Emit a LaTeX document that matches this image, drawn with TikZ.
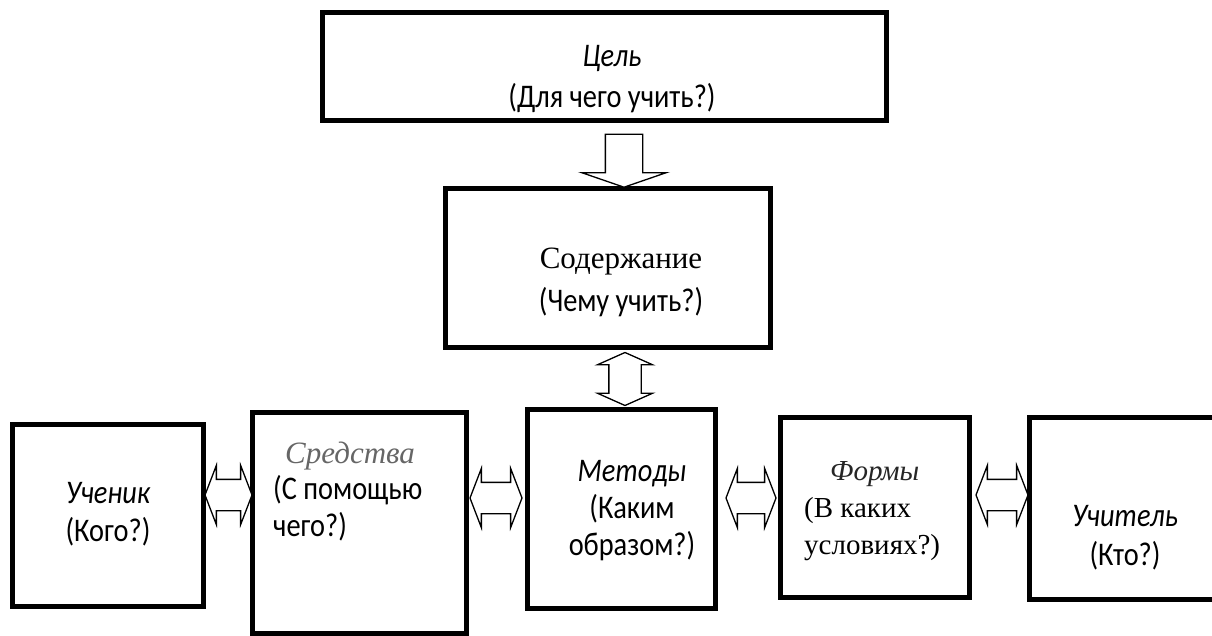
\documentclass[tikz,border=0pt]{standalone}
\usepackage{fontspec}
\setmainfont{Carlito}[FakeStretch=0.86]
\newfontfamily\tnr{Liberation Serif}
\usetikzlibrary{shapes.arrows,calc}

\tikzstyle{block} = [rectangle, draw=black, line width=5.5pt, fill=white]
\tikzstyle{caption} = [align=center, inner sep=0pt, font=\fontsize{33}{38}\selectfont]
\tikzstyle{leftcaption} = [align=left, anchor=west, inner sep=0pt, font=\fontsize{33}{37}\selectfont]
\tikzstyle{twoway} = [double arrow, draw=black, line width=1.3pt, fill=white, inner xsep=0pt, inner ysep=15pt, double arrow head extend=14pt, double arrow tip angle=138]
\tikzstyle{oneway} = [single arrow, draw=black, line width=1.3pt, fill=white, inner xsep=0pt, inner ysep=18pt, single arrow head extend=23.5pt, single arrow tip angle=142, rotate=-90, minimum height=53pt]

\begin{document}
\begin{tikzpicture}[x=1pt, y=1pt, node distance=250pt]
	\useasboundingbox (0,0) rectangle (1212,-636);
	
	\node (cel) [block, minimum width=564pt, minimum height=108pt] at (604.5,-66.5) {};
	\node (soderzhanie) [block, minimum width=325pt, minimum height=159pt, below of=cel, xshift=3.5pt, yshift=48.5pt] {};
	\node (metody) [block, minimum width=188pt, minimum height=199pt, below of=soderzhanie, xshift=13.5pt, yshift=9pt] {};
	\node (sredstva) [block, minimum width=214pt, minimum height=221pt, left of=metody, xshift=-12pt, yshift=-14pt] {};
	\node (uchenik) [block, minimum width=191pt, minimum height=182pt, left of=sredstva, xshift=-1.5pt, yshift=7.5pt] {};
	\node (formy) [block, minimum width=189pt, minimum height=180pt, right of=metody, xshift=3.5pt, yshift=1.5pt] {};
	\node (uchitel) [block, minimum width=193pt, minimum height=182pt, right of=formy, xshift=1pt, yshift=-1pt] {};
	
	\node (celtext) [caption] at ([shift={(7.5,-13)}]cel.center) {\itshape Цель\\[3pt](Для чего учить?)};
	\node (soderzhanietext) [caption] at ([shift={(13,-14)}]soderzhanie.center) {{\tnr\fontsize{31}{38}\selectfont Содержание}\\[5pt](Чему учить?)};
	\node (uchenikt) [caption] at ([shift={(0,1.5)}]uchenik.center) {\itshape Ученик\\(Кого?)};
	\node (sredstvatext) [leftcaption, font=\fontsize{33}{36.5}\selectfont] at ([shift={(23.25,31.5)}]sredstva.west) {\hspace*{12pt}{\tnr\itshape\color{black!60}\fontsize{31}{36.5}\selectfont Средства}\\(С помощью\\чего?)};
	\node (metodytext) [caption, font=\fontsize{33}{37}\selectfont] at ([shift={(10.5,-2)}]metody.center) {\itshape Методы\\(Каким\\образом?)};
	\node (formytext) [leftcaption, font=\tnr\fontsize{29}{37}\selectfont] at ([shift={(26.25,-4)}]formy.west) {\hspace*{26pt}{\itshape\color{black!85}Формы}\\(В каких\\условиях?)};
	\node (uchiteltext) [caption, font=\fontsize{33}{39}\selectfont] at ([shift={(-1,-29)}]uchitel.center) {\itshape Учитель\\(Кто?)};
	
	\node (down) [oneway] at ($(cel.south)!0.5!(soderzhanie.north)+(17.75,-3)$) {};
	\node (updown) [twoway, rotate=90, minimum height=53pt, inner ysep=15.5pt, double arrow head extend=11.5pt, double arrow tip angle=132] at ($(soderzhanie.south)!0.5!(metody.north)+(10.25,-0.5)$) {};
	\node (h1) [twoway, minimum height=47pt] at ($(uchenik.east)!0.5!(sredstva.west)+(0.5,24.25)$) {};
	\node (h2) [twoway, minimum height=52pt] at ($(sredstva.east)!0.5!(metody.west)+(-1,18)$) {};
	\node (h3) [twoway, minimum height=50pt] at ($(metody.east)!0.5!(formy.west)+(3,10.25)$) {};
	\node (h4) [twoway, minimum height=52pt] at ($(formy.east)!0.5!(uchitel.west)+(2.5,13)$) {};
	
\end{tikzpicture}
\end{document}
